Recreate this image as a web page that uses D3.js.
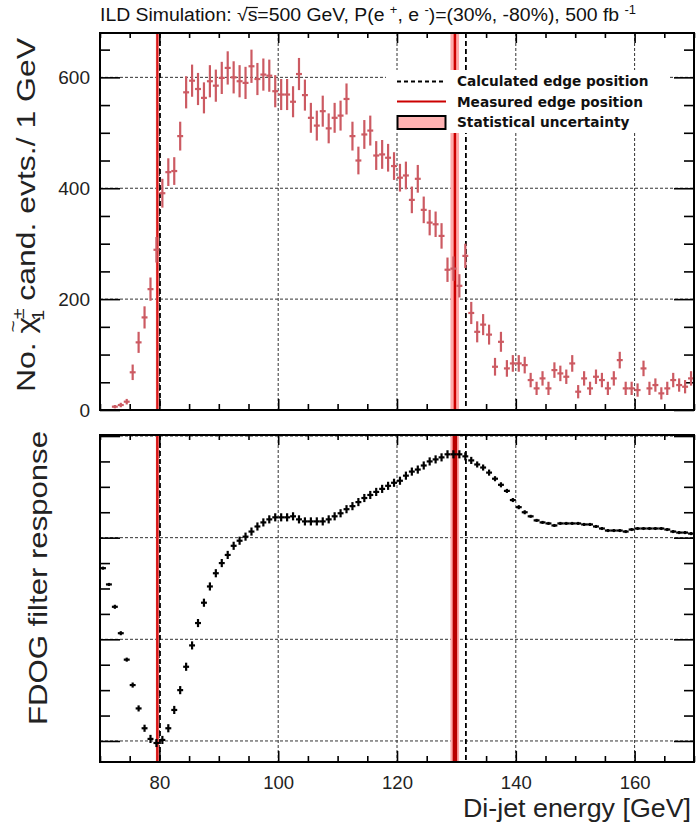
<!DOCTYPE html>
<html><head><meta charset="utf-8">
<script src="https://cdn.jsdelivr.net/npm/d3@7"></script>
<style>body{margin:0;background:#fff} svg{display:block}</style>
</head><body>
<svg id="c" width="696" height="823"></svg>
<script>
// ---------- DATA ----------
const topEnergy = [72.5,73.5,74.5,75.5,76.5,77.5,78.5,79.5,80.5,81.5,82.5,83.5,84.5,85.5,86.5,87.5,88.5,89.5,90.5,91.5,92.5,93.5,94.5,95.5,96.5,97.5,98.5,99.5,100.5,101.5,102.5,103.5,104.5,105.5,106.5,107.5,108.5,109.5,110.5,111.5,112.5,113.5,114.5,115.5,116.5,117.5,118.5,119.5,120.5,121.5,122.5,123.5,124.5,125.5,126.5,127.5,128.5,129.5,130.5,131.5,132.5,133.5,134.5,135.5,136.5,137.5,138.5,139.5,140.5,141.5,142.5,143.5,144.5,145.5,146.5,147.5,148.5,149.5,150.5,151.5,152.5,153.5,154.5,155.5,156.5,157.5,158.5,159.5,160.5,161.5,162.5,163.5,164.5,165.5,166.5,167.5,168.5,169.5];
const topCounts = [6,9,15,68,122,167,218,289,391,429,431,494,573,594,579,563,593,585,599,617,600,593,590,620,597,605,603,575,569,569,556,606,568,527,513,539,508,527,531,561,494,450,497,504,459,461,455,440,419,423,379,417,361,338,335,314,253,255,224,278,175,141,154,136,78,123,75,84,84,81,54,39,57,39,72,66,60,84,33,57,39,60,54,39,57,90,39,39,36,75,39,45,30,39,54,45,42,57];
const topErrors = [3,4,5,14,19,20,21,23,26,25,25,26,29,29,29,28,29,29,29,30,29,29,29,30,29,29,29,29,28,28,28,29,28,27,27,28,27,27,27,28,26,25,26,27,26,26,25,25,25,25,24,25,24,23,23,23,22,22,21,22,20,19,19,18,16,18,15,15,15,15,13,12,13,12,14,14,13,15,12,13,12,13,13,12,13,15,12,12,12,14,12,12,11,12,13,12,12,13];

const botEnergy = [70.5,71.5,72.5,73.5,74.5,75.5,76.5,77.5,78.5,79.5,80.5,81.5,82.5,83.5,84.5,85.5,86.5,87.5,88.5,89.5,90.5,91.5,92.5,93.5,94.5,95.5,96.5,97.5,98.5,99.5,100.5,101.5,102.5,103.5,104.5,105.5,106.5,107.5,108.5,109.5,110.5,111.5,112.5,113.5,114.5,115.5,116.5,117.5,118.5,119.5,120.5,121.5,122.5,123.5,124.5,125.5,126.5,127.5,128.5,129.5,130.5,131.5,132.5,133.5,134.5,135.5,136.5,137.5,138.5,139.5,140.5,141.5,142.5,143.5,144.5,145.5,146.5,147.5,148.5,149.5,150.5,151.5,152.5,153.5,154.5,155.5,156.5,157.5,158.5,159.5,160.5,161.5,162.5,163.5,164.5,165.5,166.5,167.5,168.5,169.5];
const botResponse = [1.70,1.54,1.32,1.06,0.80,0.55,0.32,0.125,0.02,-0.02,0.01,0.125,0.305,0.50,0.73,0.94,1.16,1.36,1.52,1.65,1.75,1.83,1.92,1.97,2.01,2.06,2.11,2.15,2.18,2.20,2.20,2.20,2.21,2.18,2.16,2.16,2.16,2.16,2.18,2.21,2.24,2.28,2.31,2.35,2.39,2.42,2.45,2.48,2.51,2.54,2.56,2.61,2.65,2.67,2.71,2.75,2.77,2.79,2.82,2.82,2.82,2.80,2.76,2.72,2.69,2.64,2.58,2.52,2.46,2.37,2.30,2.25,2.21,2.17,2.15,2.14,2.12,2.14,2.14,2.14,2.14,2.13,2.13,2.11,2.09,2.07,2.07,2.07,2.06,2.08,2.09,2.09,2.09,2.09,2.09,2.08,2.06,2.05,2.05,2.04];
const botErrors = [0.015,0.015,0.02,0.02,0.02,0.025,0.03,0.035,0.04,0.04,0.04,0.04,0.04,0.04,0.04,0.04,0.04,0.04,0.04,0.04,0.04,0.04,0.04,0.04,0.04,0.04,0.04,0.04,0.04,0.04,0.04,0.04,0.04,0.04,0.04,0.04,0.04,0.04,0.04,0.04,0.04,0.04,0.04,0.04,0.04,0.04,0.04,0.04,0.04,0.04,0.04,0.04,0.04,0.04,0.04,0.04,0.04,0.04,0.04,0.04,0.04,0.04,0.035,0.03,0.03,0.03,0.025,0.025,0.02,0.02,0.02,0.02,0.015,0.015,0.015,0.015,0.015,0.015,0.015,0.015,0.015,0.015,0.015,0.015,0.015,0.015,0.015,0.015,0.015,0.015,0.015,0.015,0.015,0.015,0.015,0.015,0.015,0.015,0.015,0.015];

const calculatedEdges = [80.1, 131.6];
const measuredEdges = [79.65, 129.75];
const measuredErrLo = [79.4, 129.0];
const measuredErrHi = [79.9, 130.45];

const xMajorTicks = [80,100,120,140,160];
const xMinorTicks = [70,75,85,90,95,105,110,115,125,130,135,145,150,155,165,170];
const topYMajor = [0,200,400,600];
const topYMinor = [50,100,150,250,300,350,450,500,550,650];
const botYMajor = [0,1,2,3];
const botYMinor = [0.25,0.5,0.75,1.25,1.5,1.75,2.25,2.5,2.75];

const legendLabels = ["Calculated edge position","Measured edge position","Statistical uncertainty"];

// ---------- SCALES ----------
const svg = d3.select("#c");
const x = d3.scaleLinear().domain([70,170]).range([100,694]);
const yT = d3.scaleLinear().domain([0,680]).range([410,33]);
const yB = d3.scaleLinear().domain([-0.207,3.01]).range([762,435]);

const RED = "#cc0000", BAND = "#ffabab", PT = "#cc5a62";
const FONT = "'Liberation Sans', Arial, sans-serif";

function clean(g){ g.select(".domain").remove(); g.selectAll("line").attr("stroke","#000").attr("stroke-width",1.6); }

function panel(y, top, bottom, yMaj, yMin, gridY){
  const grid = svg.append("g").attr("stroke","#333").attr("stroke-width",1).attr("stroke-dasharray","3,2");
  grid.selectAll("line.v").data(xMajorTicks).join("line")
    .attr("x1",d=>x(d)).attr("x2",d=>x(d)).attr("y1",top).attr("y2",bottom);
  grid.selectAll("line.h").data(gridY).join("line")
    .attr("x1",100).attr("x2",694).attr("y1",d=>y(d)).attr("y2",d=>y(d));
  svg.append("g").attr("transform",`translate(0,${bottom})`).call(d3.axisTop(x).tickValues(xMajorTicks).tickSize(11).tickFormat("")).call(clean);
  svg.append("g").attr("transform",`translate(0,${bottom})`).call(d3.axisTop(x).tickValues(xMinorTicks).tickSize(6).tickFormat("")).call(clean);
  svg.append("g").attr("transform",`translate(0,${top})`).call(d3.axisBottom(x).tickValues(xMajorTicks).tickSize(10).tickFormat("")).call(clean);
  svg.append("g").attr("transform",`translate(0,${top})`).call(d3.axisBottom(x).tickValues(xMinorTicks).tickSize(5).tickFormat("")).call(clean);
  svg.append("g").attr("transform",`translate(100,0)`).call(d3.axisRight(y).tickValues(yMaj).tickSize(20).tickFormat("")).call(clean);
  svg.append("g").attr("transform",`translate(100,0)`).call(d3.axisRight(y).tickValues(yMin).tickSize(10).tickFormat("")).call(clean);
  svg.append("g").attr("transform",`translate(694,0)`).call(d3.axisLeft(y).tickValues(yMaj).tickSize(20).tickFormat("")).call(clean);
  svg.append("g").attr("transform",`translate(694,0)`).call(d3.axisLeft(y).tickValues(yMin).tickSize(10).tickFormat("")).call(clean);
}

function edges(top, bottom, redW, redC){
  const g = svg.append("g");
  g.selectAll("rect").data(measuredEdges).join("rect")
    .attr("x",(d,i)=>x(measuredErrLo[i])).attr("width",(d,i)=>x(measuredErrHi[i])-x(measuredErrLo[i]))
    .attr("y",top).attr("height",bottom-top).attr("fill",BAND);
  g.selectAll("line.m").data(measuredEdges).join("line").attr("class","m")
    .attr("x1",d=>x(d)).attr("x2",d=>x(d)).attr("y1",top).attr("y2",bottom)
    .attr("stroke",(d,i)=>redC[i]).attr("stroke-width",(d,i)=>redW[i]);
  g.selectAll("line.c").data(calculatedEdges).join("line").attr("class","c")
    .attr("x1",d=>x(d)).attr("x2",d=>x(d)).attr("y1",top).attr("y2",bottom)
    .attr("stroke","#000").attr("stroke-width",1.8).attr("stroke-dasharray","5,3");
}

// ---------- TOP PANEL ----------
panel(yT, 33, 410, topYMajor, topYMinor, [200,400,600]);
edges(33, 410, [2.2,2.5], ["#d81818","#cc0000"]);

const tp = svg.append("g").attr("stroke",PT).attr("stroke-width",2.2);
topEnergy.forEach((e,i)=>{
  tp.append("line").attr("x1",x(e)).attr("x2",x(e)).attr("y1",yT(Math.max(0,topCounts[i]-topErrors[i]))).attr("y2",yT(topCounts[i]+topErrors[i]));
  tp.append("line").attr("x1",x(e-0.5)).attr("x2",x(e+0.5)).attr("y1",yT(topCounts[i])).attr("y2",yT(topCounts[i]));
});

// legend
const lg = svg.append("g");
lg.append("rect").attr("x",386).attr("y",70).attr("width",284).attr("height",63).attr("fill","#fff");
lg.append("line").attr("x1",397).attr("x2",443).attr("y1",81.5).attr("y2",81.5).attr("stroke","#000").attr("stroke-width",1.8).attr("stroke-dasharray","4,3");
lg.append("line").attr("x1",397).attr("x2",446).attr("y1",101.5).attr("y2",101.5).attr("stroke",RED).attr("stroke-width",2);
lg.append("rect").attr("x",397.5).attr("y",116).attr("width",48).attr("height",13).attr("fill","#ffb3b3").attr("stroke","#000").attr("stroke-width",2);
lg.selectAll("text").data(legendLabels).join("text")
  .attr("x",457).attr("y",(d,i)=>86+i*20.5).text(d=>d)
  .attr("font-family","'DejaVu Sans', Verdana, sans-serif").attr("font-weight","bold").attr("font-size",13.7).attr("fill","#111");

svg.append("rect").attr("x",100).attr("y",33).attr("width",594).attr("height",377).attr("fill","none").attr("stroke","#000").attr("stroke-width",2);

const yl = svg.append("g").attr("transform","translate(100,0)").call(d3.axisLeft(yT).tickValues(topYMajor).tickSize(0).tickPadding(10));
yl.select(".domain").remove();
yl.attr("font-family",FONT).attr("font-size",19);
yl.selectAll("text").attr("fill","#222");

// ---------- BOTTOM PANEL ----------
panel(yB, 435, 762, botYMajor, botYMinor, [0,1,2,3]);
edges(435, 762, [2.5,4.5], ["#d81818","#b80000"]);

const bp = svg.append("g").attr("stroke","#000").attr("stroke-width",2.2);
botEnergy.forEach((e,i)=>{
  bp.append("line").attr("x1",x(e)).attr("x2",x(e)).attr("y1",yB(botResponse[i]-botErrors[i])).attr("y2",yB(botResponse[i]+botErrors[i]));
  bp.append("line").attr("x1",x(e-0.5)).attr("x2",x(e+0.5)).attr("y1",yB(botResponse[i])).attr("y2",yB(botResponse[i]));
});
svg.append("rect").attr("x",100).attr("y",435).attr("width",594).attr("height",327).attr("fill","none").attr("stroke","#000").attr("stroke-width",2);

const xl = svg.append("g").attr("transform","translate(0,762)").call(d3.axisBottom(x).tickValues(xMajorTicks).tickSize(0).tickPadding(14));
xl.select(".domain").remove();
xl.attr("font-family",FONT).attr("font-size",18.5);
xl.selectAll("text").attr("fill","#222");

// ---------- TEXTS ----------
const t = svg.append("text").attr("x",100).attr("y",21).attr("font-family",FONT).attr("font-size",18).attr("fill","#111")
  .attr("textLength",536).attr("lengthAdjust","spacingAndGlyphs");
t.append("tspan").text("ILD Simulation: \u221As=500 GeV, P(e ");
t.append("tspan").attr("dy",-7).attr("font-size",12).text("+");
t.append("tspan").attr("dy",7).text(", e ");
t.append("tspan").attr("dy",-7).attr("font-size",12).text("-");
t.append("tspan").attr("dy",7).text(")=(30%, -80%), 500 fb ");
t.append("tspan").attr("dy",-7).attr("font-size",12).text("-1");
{
  const node = t.node();
  const idx = "ILD Simulation: \u221A".length;
  const ext = node.getExtentOfChar(idx);
  const root = node.getExtentOfChar(idx-1);
  svg.append("line").attr("x1",root.x+root.width-1.5).attr("x2",ext.x+ext.width+0.5)
    .attr("y1",ext.y+2.5).attr("y2",ext.y+2.5).attr("stroke","#111").attr("stroke-width",1.2);
}

const yt = svg.append("text").attr("transform","translate(35,215) rotate(-90)").attr("text-anchor","middle")
  .attr("font-family",FONT).attr("font-size",26).attr("fill","#222")
  .attr("textLength",354).attr("lengthAdjust","spacingAndGlyphs");
yt.append("tspan").text("No. \u03C7");
yt.append("tspan").attr("font-size",17).attr("dx",-13).attr("dy",-16).text("~");
yt.append("tspan").attr("font-size",16).attr("dx",1).attr("dy",5).text("\u00B1");
yt.append("tspan").attr("font-size",16).attr("dy",20).attr("dx",-10).text("1");
yt.append("tspan").attr("dy",-9).text(" cand. evts./ 1 GeV");

svg.append("text").attr("transform","translate(47,578) rotate(-90)").attr("text-anchor","middle")
  .attr("font-family",FONT).attr("font-size",26).attr("fill","#222")
  .attr("textLength",294).attr("lengthAdjust","spacingAndGlyphs").text("FDOG filter response");

svg.append("text").attr("x",691).attr("y",817).attr("text-anchor","end")
  .attr("font-family",FONT).attr("font-size",26).attr("fill","#222")
  .attr("textLength",228).attr("lengthAdjust","spacingAndGlyphs").text("Di-jet energy [GeV]");
</script>
</body></html>
